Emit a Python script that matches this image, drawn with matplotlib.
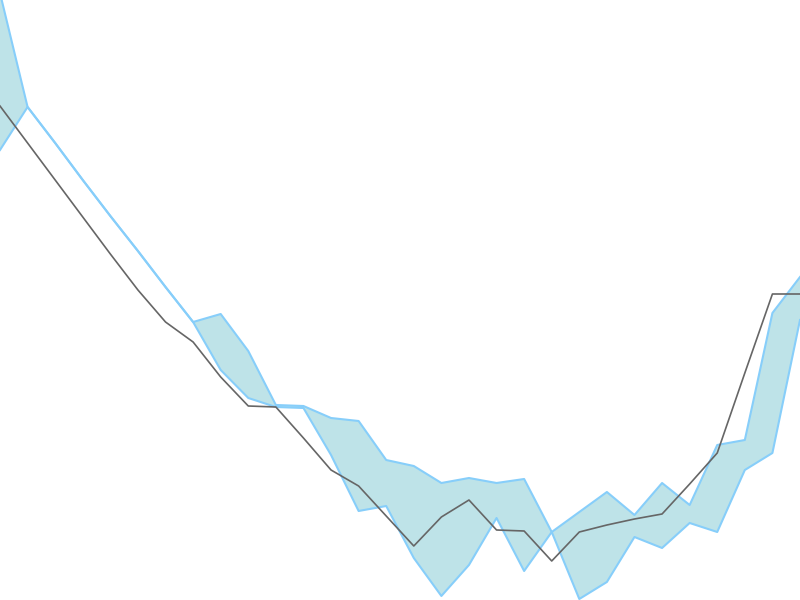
import numpy as np
import matplotlib
matplotlib.use("Agg")
import matplotlib.pyplot as plt

# === values (0 = bottom, 600 = top) ===
upper_px = [-7, 107, 143, 180, 216, 251, 287, 322, 314, 351,
            405, 406, 418, 421, 460, 466, 483, 478, 483, 479,
            532, 512, 492, 515, 483, 505, 445, 440, 313, 277]
lower_px = [150, 107, 143, 180, 216, 251, 287, 322, 370, 398,
            407, 408, 455, 511, 506, 558, 596, 565, 518, 571,
            532, 599, 582, 537, 548, 523, 532, 470, 453, 320]
actual_px = [106, 143, 180, 217, 254, 290, 322, 342, 377, 406,
             407, 438, 470, 486, 516, 546, 517, 500, 530, 531,
             561, 532, 525, 519, 514, 484, 453, 373, 294, 294]

upper = 600 - np.array(upper_px)
lower = 600 - np.array(lower_px)
actual = 600 - np.array(actual_px)
x = np.arange(len(upper))

fig = plt.figure(figsize=(8, 6), dpi=100)
ax = fig.add_axes([0, 0, 1, 1])

# === forecast band and actual line ===
ax.fill_between(x, lower, upper, color="#BEE3E8", linewidth=0)
ax.plot(x, upper, color="#87CEFA", linewidth=1.5)
ax.plot(x, lower, color="#87CEFA", linewidth=1.5)
ax.plot(x, actual, color="#666666", linewidth=1.2)

ax.set_xlim(0, len(x) - 1)
ax.set_ylim(0, 600)
ax.axis("off")

fig.savefig("out.png", dpi=100)
